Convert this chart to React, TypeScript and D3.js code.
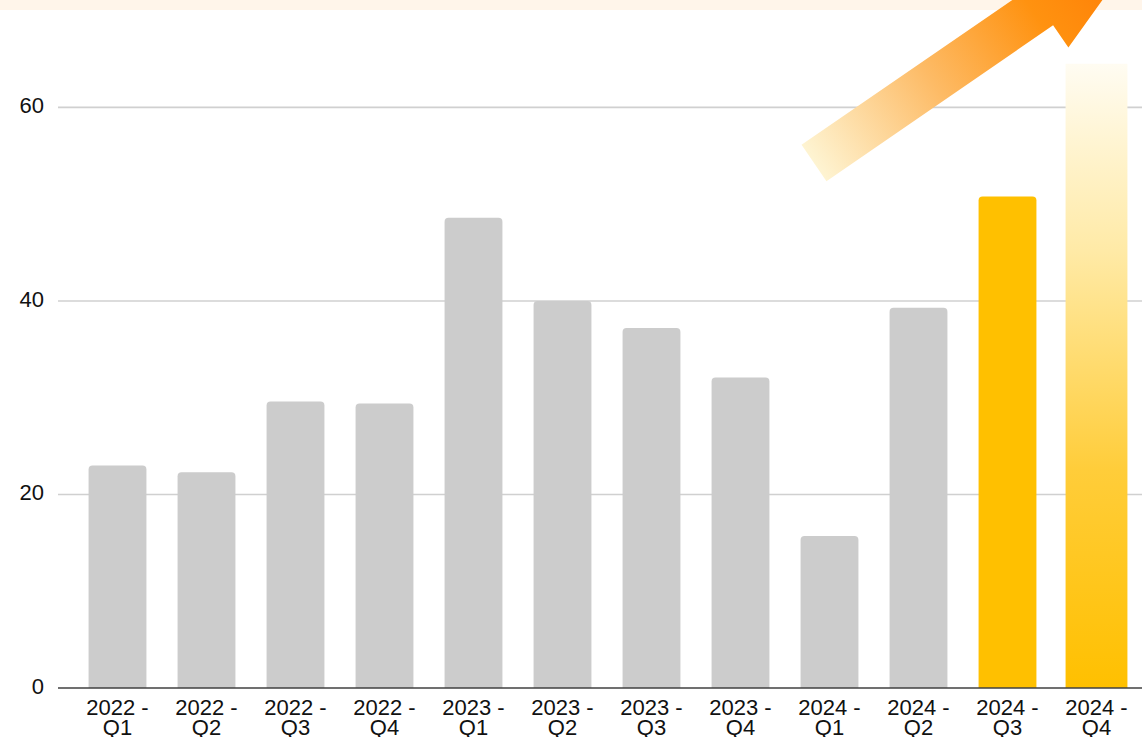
import React from 'react';
import * as d3 from 'd3';

// quarters on the x axis, first line / second line of each label
const categories = ['2022 - Q1', '2022 - Q2', '2022 - Q3', '2022 - Q4', '2023 - Q1', '2023 - Q2',
    '2023 - Q3', '2023 - Q4', '2024 - Q1', '2024 - Q2', '2024 - Q3', '2024 - Q4'];
const values = [23.0, 22.3, 29.6, 29.4, 48.6, 40.0, 37.2, 32.1, 15.7, 39.3, 50.8, 64.5];
const yTicks = [0, 20, 40, 60];

/**
 * Quarterly bar chart, the last two quarters highlighted with a rising arrow.
 */
export default class App extends React.Component {

    svgRef = React.createRef<SVGSVGElement>();

    componentDidMount() {
        let svgWidth = 1142, svgHeight = 737;

        let svg = d3.select(this.svgRef.current)
            .attr('width', svgWidth)
            .attr('height', svgHeight);
        svg.selectAll('*').remove();

        let defs = svg.append('defs');

        // gradient of the last bar, pale at the top
        let barGrad = defs.append('linearGradient')
            .attr('id', 'lastBar')
            .attr('x1', 0).attr('y1', 0).attr('x2', 0).attr('y2', 1);
        [[0, '#fffcf2'], [0.3, '#ffeaa6'], [0.65, '#ffcd3a'], [1, '#ffc000']].forEach(s => {
            barGrad.append('stop').attr('offset', s[0]).attr('stop-color', s[1]);
        });

        let scaleX = d3.scaleBand()
            .domain(categories)
            .range([73, 1141])
            .paddingInner(0.35)
            .paddingOuter(0.175);

        let scaleY = d3.scaleLinear()
            .domain([0, 60])
            .range([688, 107.4]);

        // top strip
        svg.append('rect')
            .attr('x', 0).attr('y', 0)
            .attr('width', svgWidth).attr('height', 10)
            .attr('fill', '#fff5ea');

        // gridlines
        svg.append('g')
            .selectAll('line')
            .data(yTicks.filter(t => t > 0))
            .enter()
                .append('line')
                .attr('x1', 58).attr('x2', svgWidth)
                .attr('y1', d => scaleY(d)).attr('y2', d => scaleY(d))
                .attr('stroke', '#d0d0d0')
                .attr('stroke-width', 1.6);

        function roundedTop(x, y, w, h, r) {
            return `M${x},${y + h}V${y + r}Q${x},${y} ${x + r},${y}H${x + w - r}Q${x + w},${y} ${x + w},${y + r}V${y + h}Z`;
        }

        let n = categories.length;
        svg.append('g')
            .selectAll('path')
            .data(values)
            .enter()
                .append('path')
                .attr('d', (d, i) => {
                    let bw = scaleX.bandwidth();
                    let x = scaleX(categories[i]);
                    if (i === n - 1) {
                        // the gradient bar is a touch wider and square
                        return roundedTop(x - 2, scaleY(d), bw + 4, scaleY(0) - scaleY(d), 0);
                    }
                    return roundedTop(x, scaleY(d), bw, scaleY(0) - scaleY(d), 4);
                })
                .attr('fill', (d, i) => i === n - 1 ? 'url(#lastBar)' : (i === n - 2 ? '#ffc000' : '#cccccc'));

        // axis line
        svg.append('line')
            .attr('x1', 58).attr('x2', svgWidth)
            .attr('y1', scaleY(0)).attr('y2', scaleY(0))
            .attr('stroke', '#404040')
            .attr('stroke-width', 1.5);

        // y tick labels
        svg.append('g')
            .selectAll('text')
            .data(yTicks)
            .enter()
                .append('text')
                .attr('x', 44)
                .attr('y', d => scaleY(d) + 6)
                .attr('text-anchor', 'end')
                .attr('font-family', '"Liberation Sans", Arial, sans-serif')
                .attr('font-size', 22)
                .attr('fill', '#111')
                .text(d => d);

        // x tick labels, two lines each
        let xLabels = svg.append('g')
            .selectAll('text')
            .data(categories)
            .enter()
                .append('text')
                .attr('text-anchor', 'middle')
                .attr('font-family', '"Liberation Sans", Arial, sans-serif')
                .attr('font-size', 22)
                .attr('fill', '#111');
        xLabels.each(function (d) {
            let parts = d.split(' - ');
            let cx = scaleX(d) + scaleX.bandwidth() / 2;
            let t = d3.select(this);
            t.append('tspan').attr('x', cx).attr('y', 715).text(parts[0] + ' -');
            t.append('tspan').attr('x', cx).attr('y', 735).text(parts[1]);
        });

        // rising arrow (decoration)
        let angle = 34.5 * Math.PI / 180;
        let dir = [Math.cos(angle), -Math.sin(angle)];
        let nrm = [Math.sin(angle), Math.cos(angle)];
        let start = [814, 163];
        let hw = 22, shaftLen = 275, headHw = 49, headLen = 135;
        let pt = (a, b) => [start[0] + a * dir[0] + b * nrm[0], start[1] + a * dir[1] + b * nrm[1]];
        let arrowPts = [
            pt(0, -hw), pt(0, hw), pt(shaftLen, hw), pt(shaftLen, headHw),
            pt(shaftLen + headLen, 0), pt(shaftLen, -headHw), pt(shaftLen, -hw)
        ];
        let tip = pt(shaftLen + headLen, 0);

        let arrowGrad = defs.append('linearGradient')
            .attr('id', 'arrowGrad')
            .attr('gradientUnits', 'userSpaceOnUse')
            .attr('x1', start[0]).attr('y1', start[1])
            .attr('x2', tip[0]).attr('y2', tip[1]);
        [[0, '#fef4d2'], [0.35, '#fdbb66'], [0.65, '#ff9210'], [1, '#ff7400']].forEach(s => {
            arrowGrad.append('stop').attr('offset', s[0]).attr('stop-color', s[1]);
        });

        svg.append('polygon')
            .attr('points', arrowPts.map(p => p.join(',')).join(' '))
            .attr('fill', 'url(#arrowGrad)');
    }

    render() {
        return (
            <div>
                <svg ref={this.svgRef} style={{ position: 'absolute', left: 0, top: 0, background: '#fff' }}>
                </svg>
            </div>
        );
    }
}
